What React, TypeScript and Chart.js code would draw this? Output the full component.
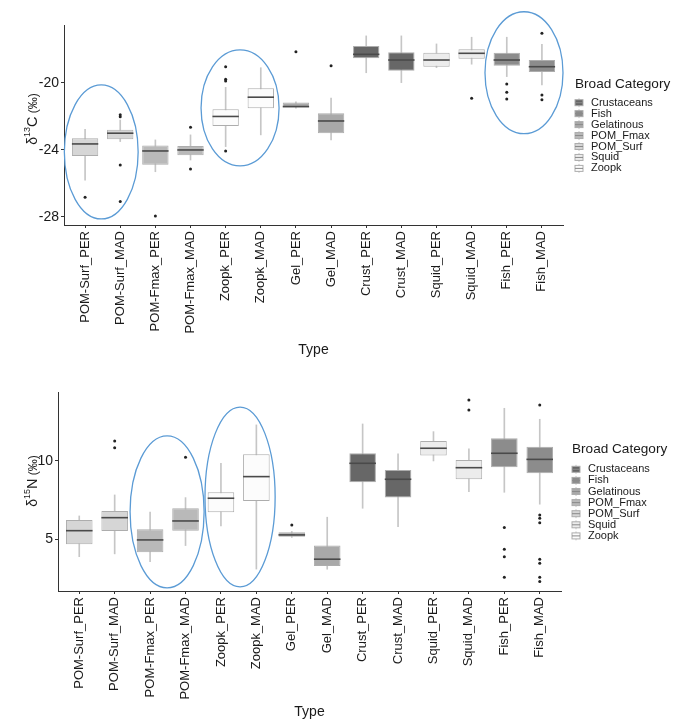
import { useEffect, useRef } from 'react';
import { Chart, registerables } from 'chart.js';

Chart.register(...registerables);

const FONT = "'Liberation Sans', Arial, Helvetica, sans-serif";
const INK = '#1a1a1a';

// Sample types along the x axis, and the broad category each belongs to
const TYPES = [
  'POM-Surf_PER', 'POM-Surf_MAD', 'POM-Fmax_PER', 'POM-Fmax_MAD',
  'Zoopk_PER', 'Zoopk_MAD', 'Gel_PER', 'Gel_MAD',
  'Crust_PER', 'Crust_MAD', 'Squid_PER', 'Squid_MAD', 'Fish_PER', 'Fish_MAD',
];
const TYPE_GROUP = [
  'POM_Surf', 'POM_Surf', 'POM_Fmax', 'POM_Fmax',
  'Zoopk', 'Zoopk', 'Gelatinous', 'Gelatinous',
  'Crustaceans', 'Crustaceans', 'Squid', 'Squid', 'Fish', 'Fish',
];
const GROUPS = ['Crustaceans', 'Fish', 'Gelatinous', 'POM_Fmax', 'POM_Surf', 'Squid', 'Zoopk'];

// δ13C box statistics (‰)
const C13_LOW = [-25.8, -23.5, -25.3, -24.6, -23.8, -23.1, -21.5, -23.4, -19.39, -19.98, -19.09, -18.88, -19.62, -20.12];
const C13_Q1 = [-24.36, -23.36, -24.88, -24.32, -22.57, -21.51, -21.47, -23.0, -18.53, -19.27, -19.03, -18.55, -18.97, -19.34];
const C13_MEDIAN = [-23.64, -23.0, -24.06, -24.0, -22.0, -20.85, -21.41, -22.27, -18.29, -18.63, -18.63, -18.23, -18.63, -19.03];
const C13_Q3 = [-23.3, -22.8, -23.74, -23.76, -21.57, -20.32, -21.17, -21.81, -17.79, -18.17, -18.19, -17.99, -18.19, -18.63];
const C13_HIGH = [-22.77, -22.21, -23.4, -23.1, -20.26, -19.09, -21.12, -20.91, -17.19, -17.19, -17.67, -17.27, -17.27, -17.69];
const C13_OUTLIERS = [
  [-26.82], [-21.9, -22.02, -24.9, -27.08], [-27.94], [-22.65, -25.13],
  [-19.03, -19.78, -19.88, -24.06], [], [-18.13], [-18.97],
  [], [], [], [-20.91], [-20.06, -20.56, -20.96], [-17.03, -20.72, -21.01],
];
const C13_TICKS = [-28, -24, -20];
const C13_RANGE = [-28.48, -16.54];

// δ15N box statistics (‰)
const N15_LOW = [3.89, 4.07, 3.57, 4.6, 5.85, 3.1, 5.12, 3.09, 6.98, 5.81, 10.0, 8.04, 8.0, 7.24];
const N15_Q1 = [4.68, 5.53, 4.17, 5.55, 6.73, 7.45, 5.17, 3.3, 8.64, 7.66, 10.34, 8.83, 9.6, 9.21];
const N15_MEDIAN = [5.55, 6.38, 4.96, 6.17, 7.62, 9.0, 5.28, 3.73, 9.85, 8.83, 10.81, 9.57, 10.49, 10.1];
const N15_Q3 = [6.23, 6.81, 5.64, 6.98, 8.0, 10.43, 5.45, 4.6, 10.49, 9.43, 11.28, 10.06, 11.45, 10.91];
const N15_HIGH = [6.49, 7.83, 6.73, 7.66, 9.85, 12.3, 5.5, 6.41, 12.36, 10.45, 11.87, 10.77, 13.36, 12.66];
const N15_OUTLIERS = [
  [], [10.85, 11.28], [], [10.24],
  [], [], [5.92], [],
  [], [], [], [13.25, 13.89],
  [5.76, 4.36, 3.89, 2.58],
  [13.57, 6.55, 6.34, 6.06, 3.73, 3.47, 2.58, 2.3],
];
const N15_TICKS = [5, 10];
const N15_RANGE = [1.7, 14.4];

// Highlighted groups, in axis units (type position, isotope value)
const C13_HIGHLIGHTS = [
  { x: 1.46, y: -24.12, rx: 1.05, ry: 4.0 },
  { x: 5.41, y: -21.49, rx: 1.11, ry: 3.46 },
  { x: 13.49, y: -19.39, rx: 1.11, ry: 3.64 },
];
const N15_HIGHLIGHTS = [
  { x: 3.48, y: 6.75, rx: 1.045, ry: 4.85 },
  { x: 5.54, y: 7.7, rx: 0.99, ry: 5.74 },
];

const GROUP_FILL: Record<string, string> = {
  Crustaceans: '#676767',
  Fish: '#8c8c8c',
  Gelatinous: '#a9a9a9',
  POM_Fmax: '#b9b9b9',
  POM_Surf: '#d6d6d6',
  Squid: '#ececec',
  Zoopk: '#fcfcfc',
};
const BOX_EDGE = '#adadad';
const WHISKER = '#c6c6c6';
const MEDIAN = '#4a4a4a';
const RING = '#5b9bd5';

type Panel = {
  height: number;
  area: { left: number; right: number; top: number; bottom: number };
  low: number[]; q1: number[]; median: number[]; q3: number[]; high: number[];
  outliers: number[][];
  ticks: number[]; range: number[];
  highlights: { x: number; y: number; rx: number; ry: number }[];
  element: string; mass: string;
  titleY: number;
  legend: { titleX: number; titleY: number; keyX: number; textX: number; firstY: number; step: number };
};

const PANELS: Panel[] = [
  {
    height: 362,
    area: { left: 64, right: 563, top: 25, bottom: 225 },
    low: C13_LOW, q1: C13_Q1, median: C13_MEDIAN, q3: C13_Q3, high: C13_HIGH,
    outliers: C13_OUTLIERS, ticks: C13_TICKS, range: C13_RANGE, highlights: C13_HIGHLIGHTS,
    element: 'C', mass: '13', titleY: 119,
    legend: { titleX: 575, titleY: 84, keyX: 579, textX: 591, firstY: 102.7, step: 10.95 },
  },
  {
    height: 363,
    area: { left: 58, right: 561, top: 30, bottom: 229 },
    low: N15_LOW, q1: N15_Q1, median: N15_MEDIAN, q3: N15_Q3, high: N15_HIGH,
    outliers: N15_OUTLIERS, ticks: N15_TICKS, range: N15_RANGE, highlights: N15_HIGHLIGHTS,
    element: 'N', mass: '15', titleY: 119,
    legend: { titleX: 572, titleY: 87.5, keyX: 576, textX: 588, firstY: 107.3, step: 11.1 },
  },
];

function drawYTitle(ctx: CanvasRenderingContext2D, p: Panel) {
  const segs = [
    { t: 'δ', size: 14, dy: 0 },
    { t: p.mass, size: 9, dy: -6.5 },
    { t: p.element, size: 14.5, dy: 0 },
    { t: ' (‰)', size: 12, dy: 0 },
  ];
  ctx.save();
  ctx.translate(36.5, p.titleY);
  ctx.rotate(-Math.PI / 2);
  ctx.fillStyle = INK;
  ctx.textBaseline = 'alphabetic';
  ctx.textAlign = 'left';
  let total = 0;
  const widths = segs.map((s) => {
    ctx.font = `${s.size}px ${FONT}`;
    const w = ctx.measureText(s.t).width;
    total += w;
    return w;
  });
  let x = -total / 2;
  segs.forEach((s, i) => {
    ctx.font = `${s.size}px ${FONT}`;
    ctx.fillText(s.t, x, s.dy);
    x += widths[i];
  });
  ctx.restore();
}

function drawLegend(ctx: CanvasRenderingContext2D, p: Panel) {
  const L = p.legend;
  ctx.save();
  ctx.fillStyle = INK;
  ctx.textBaseline = 'middle';
  ctx.textAlign = 'left';
  ctx.font = `13.6px ${FONT}`;
  ctx.fillText('Broad Category', L.titleX, L.titleY);
  GROUPS.forEach((g, i) => {
    const cy = L.firstY + i * L.step;
    const kx = L.keyX;
    ctx.strokeStyle = WHISKER;
    ctx.lineWidth = 1;
    ctx.beginPath();
    ctx.moveTo(kx, cy - 4.5);
    ctx.lineTo(kx, cy + 4.5);
    ctx.stroke();
    ctx.fillStyle = GROUP_FILL[g];
    ctx.fillRect(kx - 4, cy - 3, 8, 6);
    ctx.strokeStyle = BOX_EDGE;
    ctx.strokeRect(kx - 4, cy - 3, 8, 6);
    ctx.strokeStyle = '#8a8a8a';
    ctx.beginPath();
    ctx.moveTo(kx - 4, cy);
    ctx.lineTo(kx + 4, cy);
    ctx.stroke();
    ctx.fillStyle = INK;
    ctx.font = `11px ${FONT}`;
    ctx.fillText(g, L.textX, cy);
  });
  ctx.restore();
}

function buildConfig(p: Panel): any {
  const fills = TYPE_GROUP.map((g) => GROUP_FILL[g]);
  const decorations = {
    id: 'boxDecorations',
    afterDatasetDraw(chart: any, args: any) {
      if (args.index !== 1) return;
      const ctx = chart.ctx as CanvasRenderingContext2D;
      const ys = chart.scales.y;
      ctx.save();
      ctx.strokeStyle = MEDIAN;
      ctx.lineWidth = 1.6;
      chart.getDatasetMeta(1).data.forEach((bar: any, i: number) => {
        const { x, width } = bar.getProps(['x', 'width'], true);
        const py = ys.getPixelForValue(p.median[i]);
        ctx.beginPath();
        ctx.moveTo(x - width / 2, py);
        ctx.lineTo(x + width / 2, py);
        ctx.stroke();
      });
      ctx.restore();
    },
    afterDraw(chart: any) {
      const ctx = chart.ctx as CanvasRenderingContext2D;
      const xs = chart.scales.x;
      const ys = chart.scales.y;
      // highlight rings
      ctx.save();
      ctx.strokeStyle = RING;
      ctx.lineWidth = 1.3;
      p.highlights.forEach((h) => {
        const cx = xs.getPixelForValue(h.x);
        const cy = ys.getPixelForValue(h.y);
        const rx = Math.abs(xs.getPixelForValue(h.x + h.rx) - cx);
        const ry = Math.abs(ys.getPixelForValue(h.y + h.ry) - cy);
        ctx.beginPath();
        ctx.ellipse(cx, cy, rx, ry, 0, 0, Math.PI * 2);
        ctx.stroke();
      });
      ctx.restore();
      // axis titles
      drawYTitle(ctx, p);
      ctx.save();
      ctx.fillStyle = INK;
      ctx.font = `14px ${FONT}`;
      ctx.textAlign = 'center';
      ctx.textBaseline = 'middle';
      ctx.fillText('Type', (chart.chartArea.left + chart.chartArea.right) / 2, 350);
      ctx.restore();
      drawLegend(ctx, p);
    },
  };

  return {
    type: 'bar',
    data: {
      datasets: [
        {
          type: 'bar',
          label: 'whiskers',
          data: TYPES.map((_, i) => ({ x: i + 1, y: [p.low[i], p.high[i]] })),
          backgroundColor: WHISKER,
          borderWidth: 0,
          barThickness: 1,
          grouped: false,
          order: 3,
        },
        {
          type: 'bar',
          label: 'boxes',
          data: TYPES.map((_, i) => ({ x: i + 1, y: [p.q1[i], p.q3[i]] })),
          backgroundColor: fills,
          borderColor: BOX_EDGE,
          borderWidth: 1,
          borderSkipped: false,
          barPercentage: 0.75,
          categoryPercentage: 1,
          grouped: false,
          order: 2,
        },
        {
          type: 'scatter',
          label: 'outliers',
          data: p.outliers.flatMap((vals, i) => vals.map((v) => ({ x: i + 1, y: v }))),
          pointRadius: 1.5,
          pointBackgroundColor: '#222222',
          pointBorderWidth: 0,
          order: 1,
        },
      ],
    },
    options: {
      responsive: false,
      maintainAspectRatio: false,
      animation: false,
      events: [],
      layout: {
        padding: { left: 0, top: p.area.top, right: 676 - p.area.right, bottom: 0 },
      },
      plugins: { legend: { display: false }, tooltip: { enabled: false } },
      scales: {
        x: {
          type: 'linear',
          min: 0.4,
          max: TYPES.length + 0.6,
          offset: false,
          grid: { offset: false, drawOnChartArea: false, drawTicks: true, tickLength: 3, color: '#333333' },
          border: { display: true, color: '#333333', width: 1 },
          afterBuildTicks: (scale: any) => {
            scale.ticks = TYPES.map((_, i) => ({ value: i + 1 }));
          },
          afterFit: (scale: any) => {
            scale.height = p.height - p.area.bottom;
          },
          ticks: {
            autoSkip: false,
            maxRotation: 90,
            minRotation: 90,
            padding: 3,
            color: INK,
            font: { family: FONT, size: 13 },
            callback: (v: number) => TYPES[Math.round(v) - 1] ?? '',
          },
        },
        y: {
          type: 'linear',
          min: p.range[0],
          max: p.range[1],
          grid: { drawOnChartArea: false, drawTicks: true, tickLength: 3, color: '#333333' },
          border: { display: true, color: '#333333', width: 1 },
          afterBuildTicks: (scale: any) => {
            scale.ticks = p.ticks.map((v) => ({ value: v }));
          },
          afterFit: (scale: any) => {
            scale.width = p.area.left;
          },
          ticks: {
            padding: 2,
            color: INK,
            font: { family: FONT, size: 14 },
            callback: (v: number) => String(v),
          },
        },
      },
    },
    plugins: [decorations],
  };
}

function BoxPanel({ panel }: { panel: Panel }) {
  const ref = useRef<HTMLCanvasElement | null>(null);
  useEffect(() => {
    if (!ref.current) return;
    const chart = new Chart(ref.current, buildConfig(panel));
    return () => chart.destroy();
  }, [panel]);
  return (
    <canvas
      ref={ref}
      width={676}
      height={panel.height}
      style={{ display: 'block', width: 676, height: panel.height }}
    />
  );
}

export default function App() {
  return (
    <div style={{ position: 'fixed', left: 0, top: 0, width: 676, height: 725, background: '#ffffff' }}>
      {PANELS.map((p, i) => (
        <BoxPanel key={i} panel={p} />
      ))}
    </div>
  );
}
